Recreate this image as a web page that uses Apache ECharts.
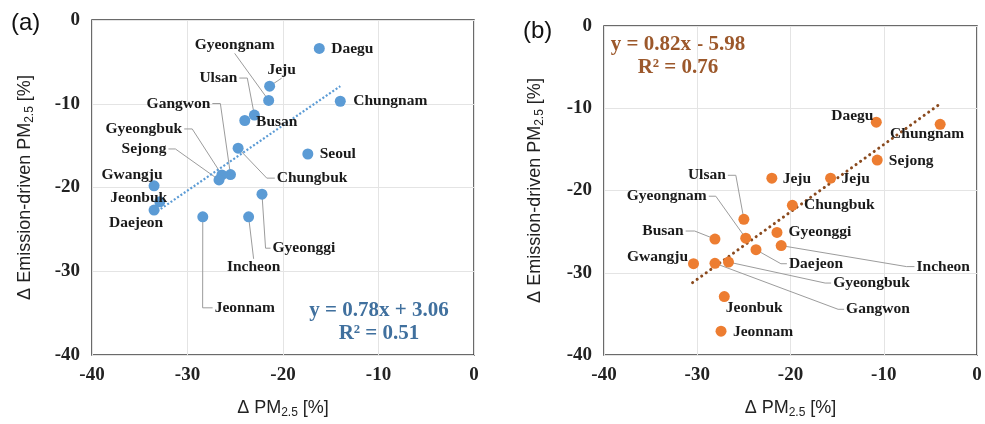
<!DOCTYPE html>
<html>
<head>
<meta charset="utf-8">
<script src="https://cdn.jsdelivr.net/npm/echarts@6/dist/echarts.min.js"></script>
<style>html,body{margin:0;padding:0;background:#fff}#c{width:985px;height:424px}</style>
</head>
<body>
<div id="c"></div>
<script>
// ---- Panel (a) data ----
const regionsA = ['Daegu','Jeju','Gyeongnam','Chungnam','Ulsan','Busan','Gangwon','Gyeongbuk','Sejong','Chungbuk','Seoul','Gwangju','Jeonbuk','Daejeon','Gyeonggi','Incheon','Jeonnam'];
const xA = [-16.2,-21.4,-21.5,-14.0,-23.0,-24.0,-25.5,-26.4,-26.7,-24.7,-17.4,-33.5,-32.9,-33.5,-22.2,-23.6,-28.4];
const yA = [-3.4,-7.9,-9.6,-9.7,-11.35,-12.0,-18.45,-18.5,-19.1,-15.3,-16.0,-19.8,-21.7,-22.7,-20.8,-23.5,-23.5];
const trendAx = [-33.5,-14.0];
const trendAy = [-23.1,-7.9];
const eqA = ['y = 0.78x + 3.06','R² = 0.51'];

// ---- Panel (b) data ----
const regionsB = ['Daegu','Chungnam','Sejong','Jeju','Jeju','Chungbuk','Ulsan','Gyeonggi','Gyeongnam','Busan','Incheon','Daejeon','Gwangju','Gangwon','Gyeongbuk','Jeonbuk','Jeonnam'];
const xB = [-10.8,-3.95,-10.7,-22.0,-15.7,-19.8,-25.0,-21.45,-24.8,-28.1,-21.0,-23.7,-30.4,-28.1,-26.65,-27.1,-27.45];
const yB = [-11.7,-11.96,-16.3,-18.5,-18.5,-21.8,-23.5,-25.1,-25.8,-25.9,-26.7,-27.2,-28.9,-28.85,-28.7,-32.9,-37.1];
const trendBx = [-30.5,-4.0];
const trendBy = [-31.2,-9.5];
const eqB = ['y = 0.82x - 5.98','R² = 0.76'];

// ---- axis ticks ----
const axisMin = -40, axisMax = 0, axisStep = 10;

// ---- label placement: [dx, dy] pixel offset of label centre from point, leader side ('' none, L/R/T/B), stub length ----
const labelPosA = [[33,1,''],[12,-16,'B',0],[-34,-55,'B',0],[50,0,''],[-36,-37,'R',8],[32,1,''],[-52,-71,'R',8],[-78,-46,'R',8],[-75,-31,'R',7],[74,30,'L',8],[30,0,''],[-22,-11,''],[-21,-4,''],[-18,13,''],[42,54,'L',5],[5,50,'T',0],[42,91,'L',10]];
const labelPosB = [[-24,-6,''],[-13,10,''],[34,1,''],[25,1,''],[25,1,''],[47,0,''],[-37,-44,'R',8],[43,0,''],[-79,-42,'R',7],[-52,-8,'R',9],[162,21,'L',8],[60,14,'L',6],[-36,-7,''],[163,46,'L',6],[143,21,'L',6],[30,11,''],[42,1,'']];

const SERIF = '"Liberation Serif","DejaVu Serif",serif';
const SANS = '"Liberation Sans",Arial,sans-serif';
const LABEL_FONT = 'bold 15.5px ' + SERIF;

const measureCtx = document.createElement('canvas').getContext('2d');
function textW(t) { measureCtx.font = LABEL_FONT; return measureCtx.measureText(t).width; }

function pts(names, xs, ys) {
  return names.map((n, i) => ({ name: n, value: [xs[i], ys[i]] }));
}

const nameStyle = {
  fontFamily: SANS, fontSize: 18, color: '#222', lineHeight: 22,
  rich: { sub: { fontFamily: SANS, fontSize: 12, lineHeight: 12, verticalAlign: 'bottom', color: '#222' } }
};

function xAxisCfg(gi) {
  return {
    gridIndex: gi, type: 'value', min: axisMin, max: axisMax, interval: axisStep,
    name: 'Δ PM{sub|2.5} [%]', nameLocation: 'middle', nameGap: 42, nameTextStyle: nameStyle,
    axisLine: { show: false }, axisTick: { show: false },
    axisLabel: { fontFamily: SERIF, fontWeight: 'bold', fontSize: 19, color: '#222', margin: 11 },
    splitLine: { show: true, lineStyle: { color: '#e4e4e4', width: 1 } }
  };
}
function yAxisCfg(gi, gap) {
  return {
    gridIndex: gi, type: 'value', min: axisMin, max: axisMax, interval: axisStep,
    name: 'Δ Emission-driven PM{sub|2.5} [%]', nameLocation: 'middle', nameGap: gap, nameTextStyle: nameStyle,
    axisLine: { show: false }, axisTick: { show: false },
    axisLabel: { fontFamily: SERIF, fontWeight: 'bold', fontSize: 19, color: '#222', margin: 12 },
    splitLine: { show: true, lineStyle: { color: '#e4e4e4', width: 1 } }
  };
}

function scatterCfg(gi, data, pos, color) {
  return {
    type: 'scatter', xAxisIndex: gi, yAxisIndex: gi, data: data,
    symbolSize: 11, itemStyle: { color: color, opacity: 1 }, z: 3,
    label: { show: true, position: 'inside', formatter: '{b}', fontFamily: SERIF, fontWeight: 'bold', fontSize: 15.5, color: '#1a1a1a' },
    labelLayout: function (p) { const o = pos[p.dataIndex]; return { dx: o[0], dy: o[1] }; },
    emphasis: { disabled: true }
  };
}

// leader lines (label -> point), drawn through the axes' own coordinate conversion
function leaderCfg(gi, data, pos) {
  return {
    type: 'custom', xAxisIndex: gi, yAxisIndex: gi, silent: true, z: 2,
    data: data.map(d => d.value),
    renderItem: function (params, api) {
      const i = params.dataIndex;
      const o = pos[i];
      if (!o[2]) return null;
      const p = api.coord([api.value(0), api.value(1)]);
      const cx = p[0] + o[0], cy = p[1] + o[1];
      const w = textW(data[i].name), h = 16;
      const s = o[3] || 0;
      let a, b;
      if (o[2] === 'L') { a = [cx - w / 2 - 2, cy]; b = [a[0] - s, cy]; }
      else if (o[2] === 'R') { a = [cx + w / 2 + 2, cy]; b = [a[0] + s, cy]; }
      else if (o[2] === 'T') { a = [cx, cy - h / 2]; b = a; }
      else { a = [cx, cy + h / 2]; b = a; }
      return {
        type: 'polyline',
        shape: { points: [a, b, p] },
        style: { stroke: '#9c9c9c', lineWidth: 1, fill: null }
      };
    }
  };
}

const dataA = pts(regionsA, xA, yA);
const dataB = pts(regionsB, xB, yB);

const chart = echarts.init(document.getElementById('c'), null, { renderer: 'canvas' });
chart.setOption({
  animation: false,
  backgroundColor: '#fff',
  title: [
    { text: '(a)', left: 6, top: 6, textStyle: { fontFamily: SANS, fontSize: 24, fontWeight: 'normal', color: '#111' } },
    { text: '(b)', left: 518, top: 14, textStyle: { fontFamily: SANS, fontSize: 24, fontWeight: 'normal', color: '#111' } }
  ],
  grid: [
    { left: 92, top: 20, width: 382, height: 336, show: true, borderColor: '#3a3a3a', borderWidth: 1.5, backgroundColor: 'transparent' },
    { left: 604, top: 26, width: 373, height: 330, show: true, borderColor: '#3a3a3a', borderWidth: 1.5, backgroundColor: 'transparent' }
  ],
  xAxis: [xAxisCfg(0), xAxisCfg(1)],
  yAxis: [yAxisCfg(0, 56), yAxisCfg(1, 58)],
  series: [
    {
      type: 'line', xAxisIndex: 0, yAxisIndex: 0, symbol: 'none', silent: true, z: 2,
      data: trendAx.map((x, i) => [x, trendAy[i]]),
      lineStyle: { color: '#5b9bd5', width: 2.2, type: [2, 2] }
    },
    leaderCfg(0, dataA, labelPosA),
    scatterCfg(0, dataA, labelPosA, '#5b9bd5'),
    {
      type: 'line', xAxisIndex: 1, yAxisIndex: 1, symbol: 'none', silent: true, z: 2,
      data: trendBx.map((x, i) => [x, trendBy[i]]),
      lineStyle: { color: '#8a4a1e', width: 3, type: [0.1, 5.5], cap: 'round' }
    },
    leaderCfg(1, dataB, labelPosB),
    scatterCfg(1, dataB, labelPosB, '#ed7d31')
  ],
  graphic: [
    { type: 'text', x: 379, y: 311, style: { text: eqA[0], font: 'bold 21px ' + SERIF, fill: '#40709e', align: 'center', verticalAlign: 'middle' } },
    { type: 'text', x: 379, y: 334, style: { text: eqA[1], font: 'bold 21px ' + SERIF, fill: '#40709e', align: 'center', verticalAlign: 'middle' } },
    { type: 'text', x: 678, y: 45, style: { text: eqB[0], font: 'bold 21px ' + SERIF, fill: '#9c582b', align: 'center', verticalAlign: 'middle' } },
    { type: 'text', x: 678, y: 68, style: { text: eqB[1], font: 'bold 21px ' + SERIF, fill: '#9c582b', align: 'center', verticalAlign: 'middle' } }
  ]
});
</script>
</body>
</html>
